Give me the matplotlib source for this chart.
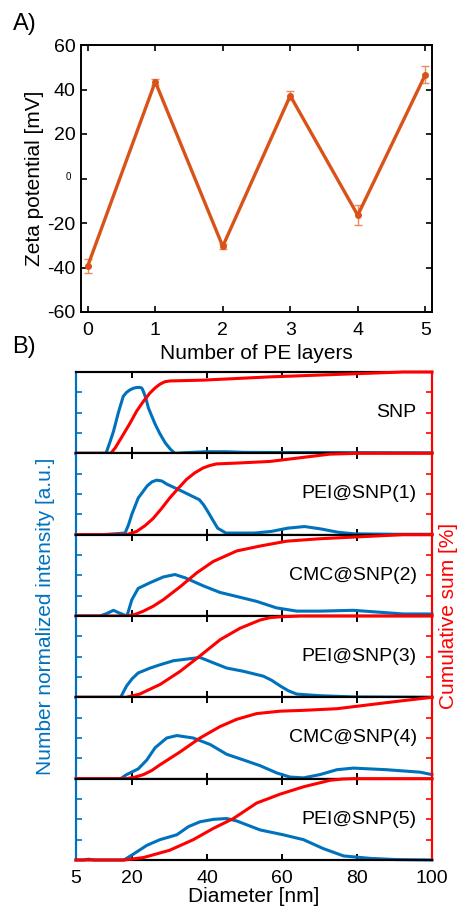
import matplotlib
matplotlib.use("Agg")
import matplotlib.pyplot as plt
from matplotlib.transforms import offset_copy

plt.rcParams['font.family'] = ['Liberation Sans', 'DejaVu Sans']

# ---------------- Panel A data ----------------
layers = [0, 1, 2, 3, 4, 5]
zeta = [-39.3, 43.5, -30.5, 37.2, -16.5, 46.6]
zeta_err = [3.3, 1.4, 1.2, 2.1, 4.6, 3.9]

# ---------------- Panel B data ----------------
sample_names = ["SNP", "PEI@SNP(1)", "CMC@SNP(2)", "PEI@SNP(3)", "CMC@SNP(4)", "PEI@SNP(5)"]

snp_d = [5, 13.0, 14.0, 15.0, 16.3, 17.6, 18.5, 19.4, 20.3, 21.2, 22.1, 22.6, 23.0, 23.7, 24.3, 25.2, 26.1,
         27.4, 28.8, 30.2, 31.4, 35, 40, 45, 50, 60, 80, 100]
snp_i = [0, 0, 0.13, 0.27, 0.50, 0.70, 0.75, 0.78, 0.80, 0.81, 0.81, 0.80, 0.76, 0.67, 0.56, 0.46, 0.36,
         0.24, 0.13, 0.05, 0, 0.01, 0.02, 0.02, 0.012, 0.01, 0.008, 0.005]
snp_cd = [5, 14.3, 15.5, 17.6, 19.4, 21.2, 23.0, 24.7, 26.0, 27.4, 28.7, 30.0, 38.9, 56.7, 74.5, 92.3, 100]
snp_c = [0, 0, 7, 23, 37, 52, 64, 74, 80, 85, 88, 89, 90, 94, 97, 100, 100]

pei1_d = [5, 12, 18.1, 19.0, 19.9, 21.6, 24.0, 25.3, 26.5, 27.9, 29.3, 32.1, 34.8, 37.9, 39.0, 40.1, 41.5,
          42.8, 45.0, 52.6, 57.1, 61.5, 66.0, 70.4, 74.9, 79.3, 90, 100]
pei1_i = [0, 0, 0.02, 0.12, 0.25, 0.45, 0.60, 0.65, 0.67, 0.66, 0.62, 0.56, 0.50, 0.43, 0.37, 0.29, 0.18,
          0.08, 0.02, 0.02, 0.04, 0.08, 0.10, 0.07, 0.03, 0.01, 0.005, 0.005]
pei1_cd = [5, 18.5, 21.2, 23.4, 25.6, 27.8, 30.0, 32.3, 34.5, 36.7, 38.9, 40.7, 42.5, 47.8, 56.7, 65.6,
           72.7, 80, 100]
pei1_c = [0, 0, 4, 11, 20, 32, 45, 57, 68, 76, 82, 85, 87, 88, 90, 95, 99, 100, 100]

cmc2_d = [5, 11.4, 13.2, 15.0, 16.4, 18.6, 19.9, 21.6, 24.8, 28.3, 31.4, 34.1, 39.0, 43.4, 47.9, 53.2,
          58.5, 63.9, 70.1, 79.0, 87.9, 92.3, 100]
cmc2_i = [0, 0, 0.03, 0.07, 0.04, 0, 0.20, 0.34, 0.41, 0.48, 0.51, 0.47, 0.37, 0.29, 0.24, 0.18,
          0.10, 0.06, 0.06, 0.07, 0.04, 0.025, 0.025]
cmc2_cd = [5, 18.6, 20.8, 23.0, 25.6, 28.3, 32.8, 37.2, 41.6, 47.9, 54.1, 61.2, 70.1, 79.0, 92.3, 100]
cmc2_c = [0, 0, 2, 6, 12, 20, 36, 53, 67, 80, 86, 92, 95, 97, 100, 100]

pei3_d = [5, 16.9, 18.5, 20.0, 21.6, 24.8, 27.4, 31.0, 34.5, 38.1, 40.8, 45.2, 49.7, 55.0, 57.2, 59.5,
          61.7, 63.9, 70.1, 79.0, 100]
pei3_i = [0, 0, 0.14, 0.23, 0.30, 0.36, 0.40, 0.45, 0.47, 0.49, 0.44, 0.36, 0.32, 0.26, 0.21, 0.14,
          0.08, 0.04, 0.02, 0.005, 0.0]
pei3_cd = [5, 18.4, 22.0, 27.5, 32.8, 38.1, 43.5, 48.8, 54.1, 56.8, 59.5, 65, 100]
pei3_c = [0, 0, 4, 16, 32, 51, 71, 85, 95, 98, 99, 100, 100]

cmc4_d = [5, 16.9, 18.5, 21.6, 23.9, 26.1, 29.2, 31.9, 36.3, 40.8, 45.2, 49.7, 54.1, 58.6, 62.1, 65.7,
          70.1, 74.6, 79.0, 87.9, 96.8, 100]
cmc4_i = [0, 0, 0.05, 0.12, 0.23, 0.38, 0.50, 0.53, 0.50, 0.42, 0.30, 0.23, 0.16, 0.07, 0.02, 0.01,
          0.05, 0.11, 0.13, 0.11, 0.08, 0.05]
cmc4_cd = [5, 18.5, 20.8, 23.0, 25.2, 27.4, 32.8, 38.1, 43.4, 47.9, 53.2, 59.5, 65.7, 74.6, 83.5,
           92.4, 100]
cmc4_c = [0, 0, 2, 5, 10, 17, 33, 50, 64, 73, 80, 83, 84, 86, 91, 96, 100]

pei5_d = [5, 7, 8.3, 10, 17.8, 19.9, 23.9, 27.4, 31.9, 35.0, 38.1, 41.7, 45.2, 47.9, 54.1, 60.3, 65.7,
          71.0, 76.4, 83.5, 90.6, 100]
pei5_i = [0, 0, 0.01, 0, 0, 0.06, 0.18, 0.25, 0.31, 0.41, 0.47, 0.50, 0.51, 0.48, 0.37, 0.31, 0.25,
          0.14, 0.05, 0.02, 0.005, 0.0]
pei5_cd = [5, 17.8, 23.0, 30.0, 36.3, 41.7, 47.0, 53.2, 59.5, 65.7, 72.8, 76.0, 79.0, 100]
pei5_c = [0, 0, 3, 12, 25, 39, 51, 70, 81, 90, 98, 99.5, 100, 100]

int_d = [snp_d, pei1_d, cmc2_d, pei3_d, cmc4_d, pei5_d]
int_v = [snp_i, pei1_i, cmc2_i, pei3_i, cmc4_i, pei5_i]
cum_d = [snp_cd, pei1_cd, cmc2_cd, pei3_cd, cmc4_cd, pei5_cd]
cum_v = [snp_c, pei1_c, cmc2_c, pei3_c, cmc4_c, pei5_c]

xticks_B = [5, 20, 40, 60, 80, 100]

ORANGE = '#D95319'
ERRC = '#E98A5E'
BLUE = '#0072BD'
RED = '#FF0000'

W, H = 458, 906
fig = plt.figure(figsize=(W / 100, H / 100), dpi=100)

def fx(px):
    return px / W

def fy(py):
    return 1 - py / H

# ---------------- Panel A ----------------
axA = fig.add_axes([fx(81), fy(312), fx(432) - fx(81), fy(45) - fy(312)])
axA.errorbar(layers, zeta, yerr=zeta_err, color=ORANGE, ecolor=ERRC, lw=2.4,
             elinewidth=1.0, capsize=3, capthick=1.0, marker='o', ms=4, zorder=3)
axA.set_xlim(-0.1, 5.1)
axA.set_ylim(-60, 60)
axA.set_xticks(layers)
axA.set_yticks([-60, -40, -20, 0, 20, 40, 60])
axA.set_yticklabels(['-60', '-40', '-20', '', '20', '40', '60'])
axA.text(0, 0, '0', transform=offset_copy(axA.get_yaxis_transform(), fig=fig, x=-10, y=2, units='dots'),
         ha='right', va='center', fontsize=7)
axA.tick_params(direction='in', top=True, right=True, labelsize=14, length=4, width=1.2, pad=4)
axA.tick_params(axis='x', pad=7)
for s in axA.spines.values():
    s.set_linewidth(1.4)
axA.set_xlabel('Number of PE layers', fontsize=15, labelpad=4)
axA.set_ylabel('Zeta potential [mV]', fontsize=15, labelpad=2)
fig.text(fx(13), fy(24), 'A)', fontsize=17, ha='left', va='center')
fig.text(fx(12), fy(347), 'B)', fontsize=17, ha='left', va='center')

# ---------------- Panel B ----------------
top_px, bot_px = 372, 860
n = len(sample_names)
hpx = (bot_px - top_px) / n
for k in range(n):
    y0 = top_px + (k + 1) * hpx
    ax = fig.add_axes([fx(76), fy(y0), fx(432) - fx(76), hpx / H])
    ax.plot(int_d[k], int_v[k], color=BLUE, lw=2.2, clip_on=False, zorder=2,
            solid_joinstyle='round')
    ax.set_xlim(5, 100)
    ax.set_ylim(0, 1)
    ax.set_yticks([0.25, 0.5, 0.75])
    ax.set_yticklabels([])
    ax.tick_params(axis='y', direction='in', colors=BLUE, length=4, width=1.2)
    ax.set_xticks(xticks_B)
    ax.tick_params(axis='x', direction='in', top=True, bottom=True, length=4, width=1.4,
                   labelsize=14, pad=7)
    if k < n - 1:
        ax.set_xticklabels([])
    else:
        ax.set_xlabel('Diameter [nm]', fontsize=15, labelpad=0)
    axr = ax.twinx()
    axr.plot(cum_d[k], cum_v[k], color=RED, lw=2.2, clip_on=False, zorder=3,
             solid_joinstyle='round')
    axr.set_ylim(0, 100)
    axr.set_yticks([25, 50, 75])
    axr.set_yticklabels([])
    axr.tick_params(axis='y', direction='in', colors=RED, length=4, width=1.2)
    for a in (ax, axr):
        a.spines['left'].set_color(BLUE)
        a.spines['right'].set_color(RED)
        a.spines['top'].set_color('black')
        a.spines['bottom'].set_color('black')
        for s in a.spines.values():
            s.set_linewidth(1.5)
    axr.text(0.957, 0.5, sample_names[k], transform=axr.transAxes, ha='right', va='center',
             fontsize=14)

fig.text(fx(46), fy((top_px + bot_px) / 2), 'Number normalized intensity [a.u.]',
         rotation=90, color=BLUE, fontsize=15, ha='center', va='center')
fig.text(fx(449), fy((top_px + bot_px) / 2), 'Cumulative sum [%]',
         rotation=90, color=RED, fontsize=15, ha='center', va='center')

fig.savefig('out.png', dpi=100)
